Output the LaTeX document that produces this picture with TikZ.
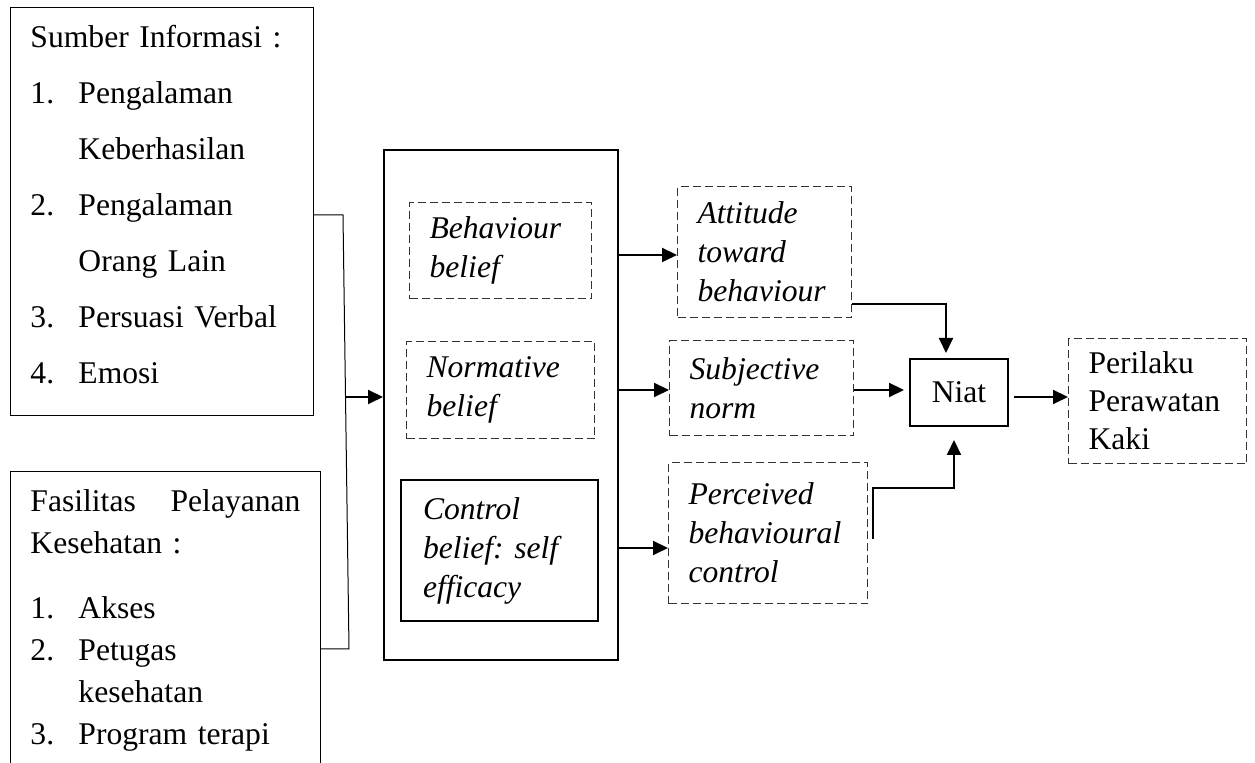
\documentclass[tikz,border=0pt]{standalone}
\usepackage{fontspec}
\setmainfont{Liberation Serif}
\usetikzlibrary{arrows.meta}
\frenchspacing
\begin{document}
\begin{tikzpicture}[x=0.5pt,y=-0.5pt,
  every node/.style={inner sep=0pt},
  sbox/.style={draw=black, line width=0.5pt, rectangle, anchor=north west, align=left, inner xsep=10pt},
  dbox/.style={draw=black!80, line width=0.6pt, dash pattern=on 4pt off 2pt, rectangle, anchor=north west,
               align=left, inner xsep=10pt, font=\fontsize{15.8}{19.5}\selectfont\itshape},
  thickbox/.style={draw=black, line width=1pt, rectangle},
  arr/.style={line width=1pt, -{Triangle[length=7.5pt,width=7pt]}},
  thinline/.style={line width=0.5pt}
]
\clip (0,0) rectangle (1255,763);
\fill[white] (0,0) rectangle (1255,763);

% left boxes
\node[sbox, text width=131.5pt, minimum height=204pt, font=\fontsize{15.8}{28}\selectfont\frenchspacing] (src) at (10,7)
 {Sumber Informasi :\\
  \makebox[24pt][l]{1.}Pengalaman\\
  \hspace*{24pt}Keberhasilan\\
  \makebox[24pt][l]{2.}Pengalaman\\
  \hspace*{24pt}Orang Lain\\
  \makebox[24pt][l]{3.}Persuasi Verbal\\
  \makebox[24pt][l]{4.}Emosi\rule[-7pt]{0pt}{7pt}};

\node[sbox, text width=135pt, inner ysep=9pt, font=\fontsize{15.8}{21}\selectfont\frenchspacing] (fas) at (10,471)
 {\makebox[135pt][l]{Fasilitas\hfill Pelayanan}\\
  Kesehatan :\\[11.5pt]
  \makebox[24pt][l]{1.}Akses\\
  \makebox[24pt][l]{2.}Petugas\\
  \hspace*{24pt}kesehatan\\
  \makebox[24pt][l]{3.}Program terapi\rule[-12pt]{0pt}{12pt}};

% central big box
\node[thickbox, anchor=north west, minimum width=117pt, minimum height=255pt] (big) at (383,149) {};
\node[dbox, text width=71pt, minimum height=48pt] (bb) at (409,202) {Behaviour\\belief};
\node[dbox, text width=74pt, minimum height=48.5pt] (nb) at (406,341) {Normative\\belief};
\node[thickbox, anchor=north west, align=left, inner xsep=11pt, text width=76.5pt, minimum height=70.5pt,
      font=\fontsize{15.8}{19.5}\selectfont\itshape\frenchspacing] (cb) at (400,479) {Control\\belief: self\\efficacy};

% middle column
\node[dbox, text width=67pt, minimum height=65.5pt] (att) at (677,186) {Attitude\\toward\\behaviour};
\node[dbox, text width=72pt, minimum height=47.5pt] (sn) at (669,340) {Subjective\\norm};
\node[dbox, text width=79.5pt, minimum height=70.5pt] (pbc) at (668,462) {Perceived\\behavioural\\control};

% right
\node[thickbox, minimum width=49pt, minimum height=33.5pt, font=\fontsize{15.8}{19}\selectfont] (niat) at (959,392.5) {Niat};
\node[dbox, text width=69pt, minimum height=62.5pt, font=\fontsize{15.8}{19}\selectfont] (per) at (1068,338) {Perilaku\\Perawatan\\Kaki};

% coordinates for connector heights
\coordinate (yb1) at (0,215);
\coordinate (yb2) at (0,649);
\coordinate (yin) at (0,397);
\coordinate (y1) at (0,255);
\coordinate (y2) at (0,390);
\coordinate (y3) at (0,548);
\coordinate (ya) at (0,304);
\coordinate (xa) at (946,0);
\coordinate (xp) at (954,0);
\coordinate (yp) at (0,488);
\coordinate (yn) at (0,397);
\coordinate (ka) at (343,215);
\coordinate (kb) at (349,649);
\coordinate (kin) at (346,397);

% bracket joining the two left boxes
\draw[thinline] (src.east |- yb1) -- (ka) -- (kb) -- (fas.east |- yb2);
\draw[arr] (kin) -- (big.west |- yin);

% big box to middle column
\draw[arr] (big.east |- y1) -- (att.west |- y1);
\draw[arr] (big.east |- y2) -- (sn.west |- y2);
\draw[arr] (big.east |- y3) -- (pbc.west |- y3);

% middle column to Niat
\draw[arr, shorten >=2.5pt] (att.east |- ya) -| (niat.north -| xa);
\draw[arr, shorten >=2.5pt] (sn.east |- y2) -- (niat.west |- y2);
\draw[arr, shorten >=6.5pt] ([xshift=2.5pt,yshift=-3pt]pbc.east) |- (xp |- yp) -- (niat.south -| xp);

% Niat to Perilaku
\draw[arr, shorten <=2.5pt] (niat.east |- yn) -- (per.west |- yn);
\end{tikzpicture}
\end{document}
